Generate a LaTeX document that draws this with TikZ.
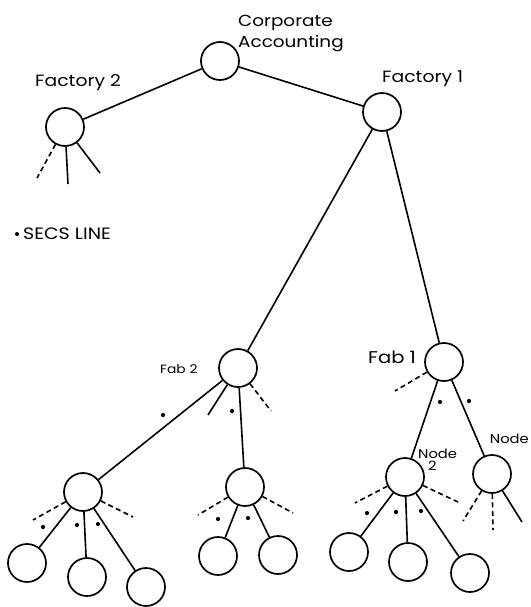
\documentclass[tikz,border=0pt]{standalone}
\usepackage{fontspec}
\setmainfont[FakeStretch=1.15]{Poppins}
\begin{document}
\begin{tikzpicture}[x=1pt,y=-1pt,
  station/.style={draw,circle,line width=1.7pt,minimum size=38pt,inner sep=0pt},
  link/.style={line width=1.6pt},
  stub/.style={line width=1.6pt,dash pattern=on 5pt off 3.5pt},
  dot/.style={circle,fill,inner sep=0pt,minimum size=4.2pt},
  lbl/.style={inner sep=0pt,anchor=base west}]
\useasboundingbox (0,0) rectangle (530,607);

% stations
\node[station] (ca) at (220,61) {};
\node[station] (f2) at (65,127) {};
\node[station] (f1) at (382,112) {};
\node[station] (fab2) at (238,368) {};
\node[station] (fab1) at (444,362) {};
\node[station] (a) at (83,492) {};
\node[station] (b) at (245,487) {};
\node[station] (n2) at (405,477) {};
\node[station] (n3) at (492,474) {};
\node[station] (a1) at (27,563) {};
\node[station] (a2) at (87,577) {};
\node[station] (a3) at (146,587) {};
\node[station] (b1) at (218,556) {};
\node[station] (b2) at (278,555) {};
\node[station] (c1) at (349,552) {};
\node[station] (c2) at (408,562) {};
\node[station] (c3) at (470,573) {};

% labels
\node[lbl,font=\fontsize{16}{21}\selectfont] (tca1) at (238,27) {Corporate};
\node[lbl,font=\fontsize{16}{21}\selectfont] (tca2) at (238,48) {Accounting};
\node[lbl,font=\fontsize{16.3}{18}\selectfont] (tf2) at (35,87) {Factory 2};
\node[lbl,font=\fontsize{16.3}{18}\selectfont] (tf1) at (382,83) {Factory 1};
\node[dot,minimum size=4pt] (bul) at (17,234) {};
\node[lbl,font=\fontsize{16.5}{18}\selectfont] (tsecs) at (23,239) {SECS LINE};
\node[lbl,font=\fontsize{12}{14}\selectfont] (tfab2) at (160,373) {Fab 2};
\node[lbl,font=\fontsize{17}{19}\selectfont] (tfab1) at (368,363) {Fab 1};
\node[lbl,font=\fontsize{12.8}{14}\selectfont] (tn2a) at (418,458) {Node};
\node[lbl,font=\fontsize{12.8}{14}\selectfont] (tn2b) at (428,470) {2};
\node[lbl,font=\fontsize{12.8}{14}\selectfont,anchor=base east] (tn3) at (529,443) {Node};

% tree links
\draw[link] (ca) -- (f2);
\draw[link] (ca) -- (f1);
\draw[link] (f1) -- (fab2);
\draw[link] (f1) -- (fab1);
\draw[link] (fab2) -- (a);
\draw[link] (fab2) -- (b);
\draw[link] (fab1) -- (n2);
\draw[link] (fab1) -- (n3);
\draw[link] (a) -- (a1);
\draw[link] (a) -- (a2);
\draw[link] (a) -- (a3);
\draw[link] (b) -- (b1);
\draw[link] (b) -- (b2);
\draw[link] (n2) -- (c1);
\draw[link] (n2) -- (c2);
\draw[link] (n2) -- (c3);

% open ends
\coordinate (f2x1) at (37,178);
\coordinate (f2x2) at (68,184);
\coordinate (f2x3) at (100,173);
\draw[stub] (f2) -- (f2x1);
\draw[link] (f2) -- (f2x2);
\draw[link] (f2) -- (f2x3);

\coordinate (fab2x1) at (208,415);
\coordinate (fab2x2) at (271,411);
\draw[link] (fab2) -- (fab2x1);
\draw[stub] (fab2) -- (fab2x2);

\coordinate (ax1) at (33,520);
\coordinate (ax2) at (133,517);
\draw[stub] (a) -- (ax1);
\draw[stub] (a) -- (ax2);

\coordinate (bx1) at (198,515);
\coordinate (bx2) at (293,513);
\draw[stub] (b) -- (bx1);
\draw[stub] (b) -- (bx2);

\coordinate (fab1x1) at (395,391);
\draw[stub] (fab1) -- (fab1x1);

\coordinate (n2x1) at (355,503);
\coordinate (n2x2) at (458,502);
\draw[stub] (n2) -- (n2x1);
\draw[stub] (n2) -- (n2x2);

\coordinate (n3x1) at (463,521);
\coordinate (n3x2) at (493,530);
\coordinate (n3x3) at (522,522);
\draw[stub] (n3) -- (n3x1);
\draw[stub] (n3) -- (n3x2);
\draw[link] (n3) -- (n3x3);

% SECS line markers
\node[dot] (d1) at (163,415) {};
\node[dot] (d2) at (232,411) {};
\node[dot] (d3) at (43,527) {};
\node[dot] (d4) at (77,525) {};
\node[dot] (d5) at (98,524) {};
\node[dot] (d6) at (218,519) {};
\node[dot] (d7) at (248,518) {};
\node[dot] (d8) at (440,402) {};
\node[dot] (d9) at (469,401) {};
\node[dot] (d10) at (367,513) {};
\node[dot] (d11) at (396,512) {};
\node[dot] (d12) at (421,511) {};
\end{tikzpicture}
\end{document}
